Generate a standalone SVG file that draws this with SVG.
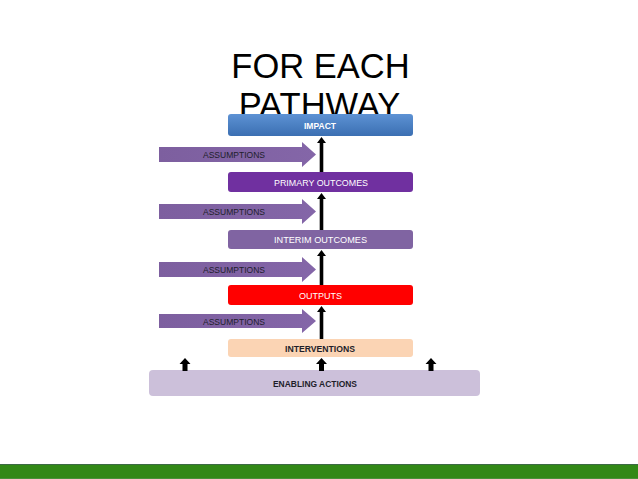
<svg xmlns="http://www.w3.org/2000/svg" width="638" height="479" viewBox="0 0 638 479">
  <defs>
    <linearGradient id="gImpact" x1="0" y1="0" x2="0" y2="1">
      <stop offset="0" stop-color="#5d92d4"/>
      <stop offset="1" stop-color="#3b6fb2"/>
    </linearGradient>
    <linearGradient id="gAssume" x1="0" y1="0" x2="1" y2="0">
      <stop offset="0" stop-color="#7d5f9f"/>
      <stop offset="1" stop-color="#8466a8"/>
    </linearGradient>
    <style>
      .title { font-family: "Liberation Sans", Arial, sans-serif; font-size: 34.5px; fill: #000; text-anchor: middle; }
      .lbl { font-family: "Liberation Sans", Arial, sans-serif; font-size: 9.5px; text-anchor: middle; }
      .white { fill: #ffffff; }
      .dark { fill: #1e1e2a; }
      .bold { font-weight: bold; }
      .asm { fill: url(#gAssume); }
      .asmtxt { font-family: "Liberation Sans", Arial, sans-serif; font-size: 9.5px; fill: #1e1e2a; }
      .blk { fill: #000000; }
    </style>
  </defs>
  <rect x="0" y="0" width="638" height="479" fill="#ffffff"/>

  <g id="title">
    <text class="title" x="320.5" y="78">FOR EACH</text>
    <text class="title" x="319.5" y="117">PATHWAY</text>
  </g>

  <g id="impact">
    <rect x="228" y="114" width="185" height="22" rx="3" fill="url(#gImpact)"/>
    <text class="lbl white bold" x="320" y="128.5" textLength="32" lengthAdjust="spacingAndGlyphs">IMPACT</text>
  </g>

  <g id="primary-outcomes">
    <rect x="228" y="172" width="185" height="20" rx="3" fill="#7030a0"/>
    <text class="lbl white" x="321" y="185.5" textLength="94" lengthAdjust="spacingAndGlyphs">PRIMARY OUTCOMES</text>
  </g>

  <g id="interim-outcomes">
    <rect x="228" y="230" width="185" height="19" rx="3" fill="#8064a2"/>
    <text class="lbl white" x="320.5" y="243" textLength="93" lengthAdjust="spacingAndGlyphs">INTERIM OUTCOMES</text>
  </g>

  <g id="outputs">
    <rect x="228" y="285" width="185" height="20" rx="3" fill="#ff0000"/>
    <text class="lbl white" x="320.5" y="299" textLength="43" lengthAdjust="spacingAndGlyphs">OUTPUTS</text>
  </g>

  <g id="interventions">
    <rect x="228" y="339" width="185" height="18" rx="3" fill="#fbd4b4"/>
    <text class="lbl dark bold" x="320" y="351.5" textLength="70" lengthAdjust="spacingAndGlyphs">INTERVENTIONS</text>
  </g>

  <g id="enabling-actions">
    <rect x="149" y="370" width="331" height="26" rx="4" fill="#ccc0da"/>
    <text class="lbl dark bold" x="315" y="386.5" textLength="84" lengthAdjust="spacingAndGlyphs">ENABLING ACTIONS</text>
  </g>

  <g id="assumptions-1">
    <polygon class="asm" points="159,147 302,147 302,142 316,154.5 302,167 302,162 159,162"/>
    <text class="asmtxt" x="203" y="158" textLength="62" lengthAdjust="spacingAndGlyphs">ASSUMPTIONS</text>
  </g>
  <g id="assumptions-2">
    <polygon class="asm" points="159,204 302,204 302,199 316,211.5 302,224 302,219 159,219"/>
    <text class="asmtxt" x="203" y="215" textLength="62" lengthAdjust="spacingAndGlyphs">ASSUMPTIONS</text>
  </g>
  <g id="assumptions-3">
    <polygon class="asm" points="159,262 302,262 302,257 316,269.5 302,282 302,277 159,277"/>
    <text class="asmtxt" x="203" y="273" textLength="62" lengthAdjust="spacingAndGlyphs">ASSUMPTIONS</text>
  </g>
  <g id="assumptions-4">
    <polygon class="asm" points="159,314 302,314 302,309 316,321 302,333 302,328 159,328"/>
    <text class="asmtxt" x="203" y="324.5" textLength="62" lengthAdjust="spacingAndGlyphs">ASSUMPTIONS</text>
  </g>

  <g id="connectors">
    <polygon class="blk" points="321.5,137 326,143 323.3,143 323.3,172 319.7,172 319.7,143 317,143"/>
    <polygon class="blk" points="321.5,193 326,199 323.3,199 323.3,230 319.7,230 319.7,199 317,199"/>
    <polygon class="blk" points="321.5,250 326,256 323.3,256 323.3,285 319.7,285 319.7,256 317,256"/>
    <polygon class="blk" points="321.5,306 326,312 323.3,312 323.3,339 319.7,339 319.7,312 317,312"/>
    <polygon class="blk" points="185,358 190.5,364 187.5,364 187.5,371 182.5,371 182.5,364 179.5,364"/>
    <polygon class="blk" points="321.5,358 327,364 324,364 324,371 319,371 319,364 316,364"/>
    <polygon class="blk" points="431,358 436.5,364 433.5,364 433.5,371 428.5,371 428.5,364 425.5,364"/>
  </g>

  <g id="footer">
    <rect x="0" y="464" width="638" height="15" fill="#328816"/>
    <rect x="0" y="464" width="638" height="1" fill="#3d6a44"/>
    <rect x="0" y="478" width="638" height="1" fill="#4a8f3a"/>
  </g>
</svg>
